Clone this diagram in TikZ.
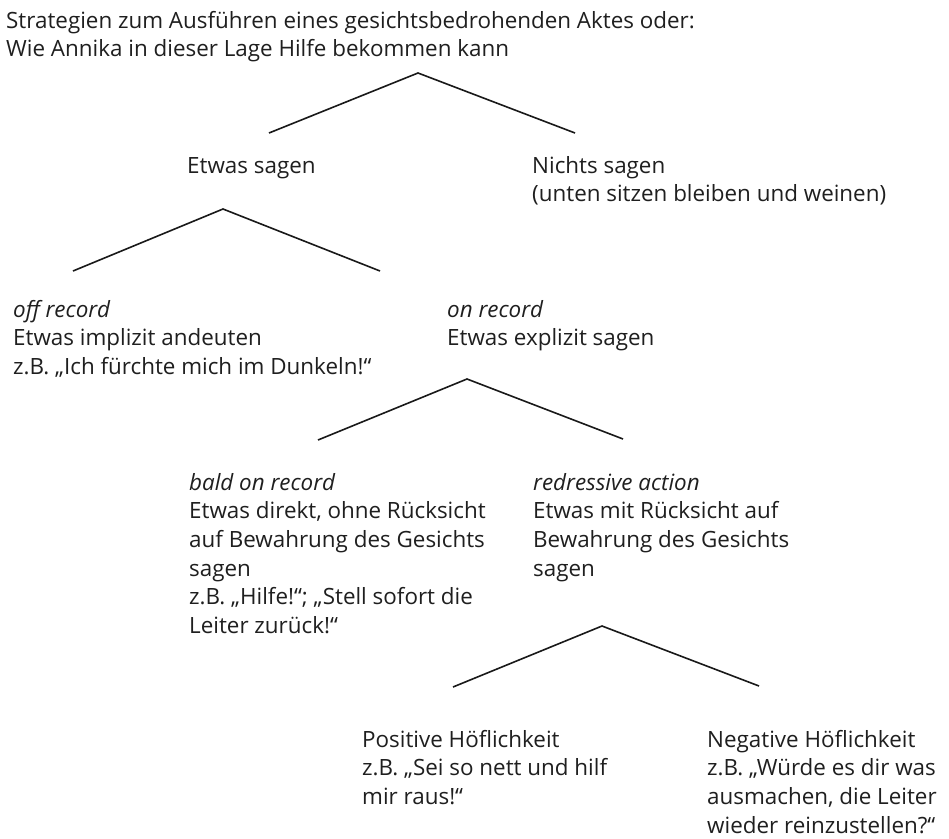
\documentclass[tikz,border=0pt]{standalone}
\usepackage{fontspec}
\setmainfont{Open Sans}
\newcommand{\topstrut}{\rule{0pt}{20pt}}
\begin{document}
\begin{tikzpicture}[x=1pt,y=-1pt,
  txt/.style={anchor=north west, inner sep=0pt, align=left,
    font=\fontsize{22.4}{28.6}\selectfont, text=black!88},
  branch/.style={line width=1.6pt, draw=black!90, line join=miter}]
\useasboundingbox[fill=white] (0,0) rectangle (949,838);
% title
\node[txt] (title) at (6,8) {\strut Strategien zum Ausführen eines gesichtsbedrohenden Aktes oder:\\\strut Wie Annika in dieser Lage Hilfe bekommen kann};
% tree 1
\coordinate (t1) at (418,73);
\coordinate (t1l) at (269,133);
\coordinate (t1r) at (575,133);
\draw[branch] (t1l) -- (t1) -- (t1r);
\node[txt] (etwas) at (187,153) {\strut Etwas sagen};
\node[txt] (nichts) at (532,153) {\strut Nichts sagen\\\strut (unten sitzen bleiben und weinen)};
% tree 2
\coordinate (t2) at (223,209);
\coordinate (t2l) at (73,271);
\coordinate (t2r) at (380,271);
\draw[branch] (t2l) -- (t2) -- (t2r);
\node[txt] (off) at (13,297) {\strut\textit{off record}\\\strut Etwas implizit andeuten\\\strut z.B. „Ich fürchte mich im Dunkeln!“};
\node[txt] (on) at (447,297) {\strut\textit{on record}\\\strut Etwas explizit sagen};
% tree 3
\coordinate (t3) at (467,379);
\coordinate (t3l) at (318,440);
\coordinate (t3r) at (623,439);
\draw[branch] (t3l) -- (t3) -- (t3r);
\node[txt] (bald) at (189,470) {\strut\textit{bald on record}\\\strut Etwas direkt, ohne Rücksicht\\\strut auf Bewahrung des Gesichts\\\strut sagen\\\strut z.B. „Hilfe!“; „Stell sofort die\\\strut Leiter zurück!“};
\node[txt] (redr) at (533,470) {\strut\textit{redressive action}\\\strut Etwas mit Rücksicht auf\\\strut Bewahrung des Gesichts\\\strut sagen};
% tree 4
\coordinate (t4) at (602,626);
\coordinate (t4l) at (453,687);
\coordinate (t4r) at (759,686);
\draw[branch] (t4l) -- (t4) -- (t4r);
\node[txt] (pos) at (362,727) {\strut Positive Höflichkeit\\\strut z.B. „Sei so nett und hilf\\\strut mir raus!“};
\node[txt] (neg) at (707,727) {\strut Negative Höflichkeit\\\strut z.B. „Würde es dir was\\\strut ausmachen, die Leiter\\\topstrut wieder reinzustellen?“};
\end{tikzpicture}
\end{document}
